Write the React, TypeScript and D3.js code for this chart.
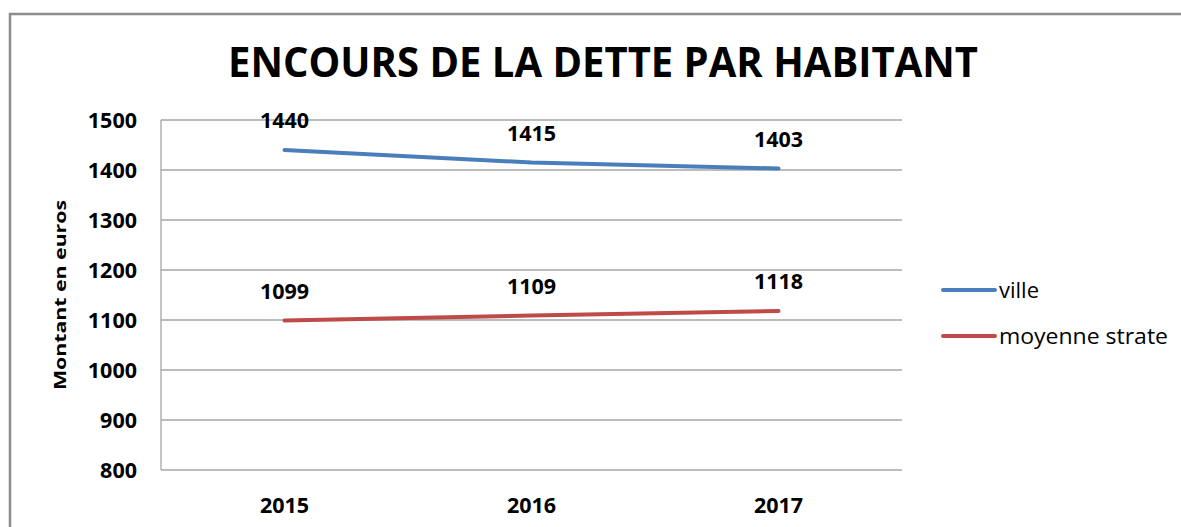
import React from "react";
import * as d3 from "d3";

const years = ["2015", "2016", "2017"];
const ville = [1440, 1415, 1403];
const strate = [1099, 1109, 1118];
const yTicks = [800, 900, 1000, 1100, 1200, 1300, 1400, 1500];
const seriesNames = ["ville", "moyenne strate"];
const colors = ["#4a7ebb", "#be4b48"];

export default function App() {
  const W = 1181, H = 527;
  const left = 161, right = 902, top = 120, bottom = 470;
  const x = d3.scaleBand<string>().domain(years).range([left, right]);
  const y = d3.scaleLinear().domain([800, 1500]).range([bottom, top]);
  const line = d3
    .line<number>()
    .x((_, i) => (x(years[i]) as number) + x.bandwidth() / 2)
    .y((d) => y(d));
  const series = [ville, strate];
  const font = "'Open Sans', 'DejaVu Sans', sans-serif";
  const legendLen = [40, 169];
  return (
    <svg
      width={W}
      height={H}
      style={{ position: "absolute", left: 0, top: 0, background: "#fff" }}
      fontFamily={font}
    >
      <rect x={10} y={14} width={1200} height={540} fill="#fff" stroke="#8c8c8c" strokeWidth={2.5} />
      <text x={603} y={77} textAnchor="middle" fontSize={41} fontWeight="bold" textLength={750} lengthAdjust="spacingAndGlyphs" fill="#000">
        ENCOURS DE LA DETTE PAR HABITANT
      </text>
      {yTicks.map((t) => (
        <g key={t}>
          <line x1={left} x2={right} y1={y(t)} y2={y(t)} stroke="#a6a6a6" strokeWidth={1.3} />
          <text x={137} y={y(t) + 8} textAnchor="end" fontSize={21.5} fontWeight="bold" fill="#000">
            {t}
          </text>
        </g>
      ))}
      <line x1={left} x2={left} y1={top} y2={bottom} stroke="#a6a6a6" strokeWidth={1.3} />
      {years.map((yr) => (
        <text key={yr} x={(x(yr) as number) + x.bandwidth() / 2} y={513} textAnchor="middle" fontSize={21.5} fontWeight="bold" fill="#000">
          {yr}
        </text>
      ))}
      <text transform="translate(66,295) rotate(-90)" textAnchor="middle" fontSize={16.5} fontWeight="bold" fill="#000" textLength={190} lengthAdjust="spacingAndGlyphs">
        Montant en euros
      </text>
      {series.map((s, si) => (
        <g key={si}>
          <path d={line(s) || ""} fill="none" stroke={colors[si]} strokeWidth={4} strokeLinecap="round" />
          {s.map((v, i) => (
            <text key={i} x={(x(years[i]) as number) + x.bandwidth() / 2} y={y(v) - 22} textAnchor="middle" fontSize={21.5} fontWeight="bold" fill="#000">
              {v}
            </text>
          ))}
        </g>
      ))}
      {seriesNames.map((n, i) => (
        <g key={n}>
          <line x1={943} x2={995} y1={290 + i * 46} y2={290 + i * 46} stroke={colors[i]} strokeWidth={4} strokeLinecap="round" />
          <text x={999} y={298 + i * 46} fontSize={21} fill="#000" textLength={legendLen[i]} lengthAdjust="spacingAndGlyphs">
            {n}
          </text>
        </g>
      ))}
    </svg>
  );
}
